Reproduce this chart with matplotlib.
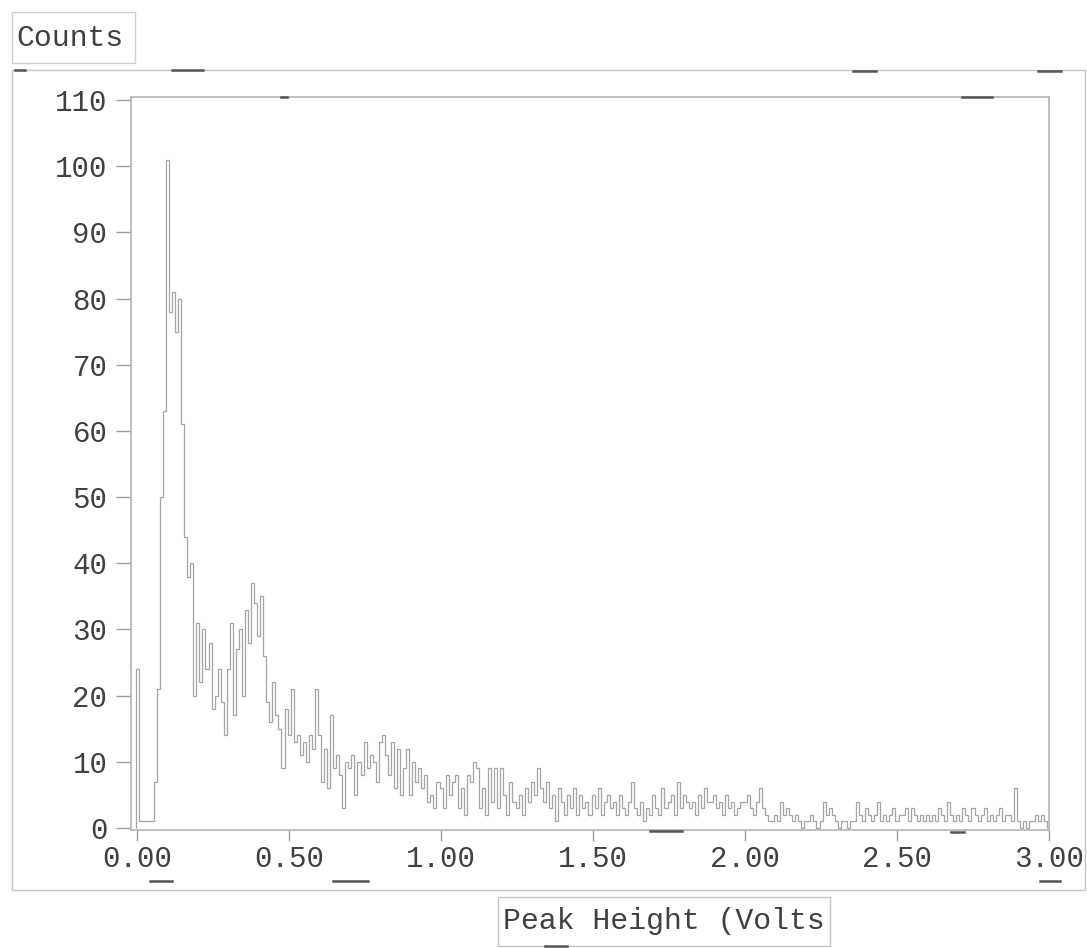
import numpy as np
import matplotlib
matplotlib.use("Agg")
import matplotlib.pyplot as plt
from matplotlib.lines import Line2D
from matplotlib.patches import Rectangle
from matplotlib.transforms import Bbox, TransformedBbox

plt.rcParams['font.family'] = ['Liberation Mono', 'DejaVu Sans Mono']

# Pulse-height spectrum, 0.01 V channels starting at 0.00 V
bin_width = 0.01
counts_0_to_1 = [
    24, 1, 1, 1, 1, 1, 7, 21, 50, 63,
    101, 78, 81, 75, 80, 61, 44, 38, 40, 20,
    31, 22, 30, 24, 28, 18, 20, 24, 19, 14,
    24, 31, 17, 27, 30, 20, 33, 28, 37, 34,
    29, 35, 26, 19, 16, 22, 17, 15, 9, 18,
    14, 21, 13, 14, 11, 13, 10, 14, 12, 21,
    14, 7, 12, 6, 17, 9, 11, 8, 3, 10,
    9, 11, 5, 10, 8, 13, 9, 11, 10, 7,
    13, 14, 11, 8, 13, 6, 12, 5, 9, 12,
    5, 10, 7, 9, 6, 8, 4, 5, 3, 7,
]
counts_1_to_2 = [
    6, 3, 8, 5, 7, 8, 3, 6, 2, 8,
    7, 10, 9, 3, 6, 2, 9, 4, 9, 3,
    9, 5, 2, 7, 4, 3, 5, 2, 6, 4,
    7, 5, 9, 6, 4, 7, 3, 5, 1, 6,
    4, 2, 5, 3, 6, 2, 5, 3, 4, 2,
    5, 3, 6, 2, 4, 5, 3, 4, 2, 5,
    3, 2, 4, 7, 3, 2, 4, 1, 3, 2,
    5, 3, 2, 6, 3, 4, 5, 2, 7, 3,
    5, 4, 3, 4, 2, 5, 3, 6, 4, 4,
    5, 3, 4, 2, 5, 3, 4, 2, 3, 4,
]
counts_2_to_3 = [
    4, 5, 3, 2, 4, 6, 3, 2, 1, 1,
    2, 1, 4, 2, 3, 2, 1, 2, 1, 0,
    1, 1, 2, 1, 0, 1, 4, 2, 3, 2,
    1, 0, 1, 1, 0, 1, 1, 4, 2, 1,
    3, 2, 1, 2, 4, 1, 2, 1, 2, 3,
    1, 2, 2, 3, 1, 3, 2, 1, 2, 1,
    2, 1, 2, 1, 3, 2, 1, 4, 2, 1,
    2, 1, 3, 2, 1, 3, 2, 1, 2, 3,
    1, 2, 1, 2, 3, 1, 2, 2, 1, 6,
    1, 0, 1, 0, 1, 1, 2, 1, 2, 1,
]
y_ticks = list(range(0, 111, 10))
x_ticks = [0.0, 0.5, 1.0, 1.5, 2.0, 2.5, 3.0]
x_tick_labels = ["0.00", "0.50", "1.00", "1.50", "2.00", "2.50", "3.00"]
y_label = "Counts"
x_label = "Peak Height (Volts)"

counts = np.array(counts_0_to_1 + counts_1_to_2 + counts_2_to_3, dtype=float)
edges = np.arange(len(counts) + 1) * bin_width - bin_width / 2

W, H = 1087, 948
fig = plt.figure(figsize=(W / 100, H / 100), dpi=100)
fig.patch.set_facecolor("white")


def fx(x):
    return x / W


def fy(y):
    return 1 - y / H


ax = fig.add_axes([fx(131), fy(830), fx(1049) - fx(131), fy(97) - fy(830)])
ax.stairs(counts, edges, color="#a4a4a4", lw=0.9)

ax.set_xlim(-0.02, 3.0)
ax.set_ylim(-0.3, 110.45)
ax.set_yticks(y_ticks)
ax.set_yticklabels([str(v) for v in y_ticks])
ax.set_xticks(x_ticks)
ax.set_xticklabels(x_tick_labels)

text_color = "#404040"
frame_color = "#b4b4b4"
for s in ax.spines.values():
    s.set_color(frame_color)
    s.set_linewidth(1.2)
ax.tick_params(axis="y", direction="out", length=11, width=1.0, color="#a0a0a0",
               pad=6, labelsize=21, labelcolor=text_color)
ax.tick_params(axis="x", direction="out", length=8, width=1.0, color="#a0a0a0",
               pad=3, labelsize=21, labelcolor=text_color)

# Outer frame around the plot
fig.add_artist(Rectangle((fx(12), fy(890)), fx(1085) - fx(12), fy(70) - fy(890),
                         transform=fig.transFigure, fill=False, ec="#c4c4c4", lw=1.0))

# Boxed axis titles
fig.add_artist(Rectangle((fx(12), fy(63)), fx(135) - fx(12), fy(12) - fy(63),
                         transform=fig.transFigure, fill=False, ec="#cfcfcf", lw=1.0))
fig.text(fx(16), fy(38), y_label, fontsize=21.5, color=text_color,
         ha="left", va="center")

fig.add_artist(Rectangle((fx(498), fy(946)), fx(830) - fx(498), fy(897) - fy(946),
                         transform=fig.transFigure, fill=False, ec="#c4c4c4", lw=1.0))
xt = fig.text(fx(503), fy(921), x_label, fontsize=21.5, color=text_color,
              ha="left", va="center", clip_on=True)
xt.set_clip_box(TransformedBbox(Bbox([[fx(498), fy(946)], [fx(827), fy(897)]]),
                                fig.transFigure))

# Darker marks along the frames
marks = [
    (15, 25, 70), (172, 203, 70), (853, 876, 71), (1038, 1061, 71),
    (281, 287, 97), (962, 992, 97),
    (650, 682, 831), (951, 964, 832),
    (150, 172, 881), (333, 368, 881), (1040, 1060, 881), (545, 567, 946),
]
for x0, x1, y in marks:
    fig.add_artist(Line2D([fx(x0), fx(x1)], [fy(y), fy(y)], transform=fig.transFigure,
                          color="#555555", lw=1.8))

fig.savefig("out.png", dpi=100)
